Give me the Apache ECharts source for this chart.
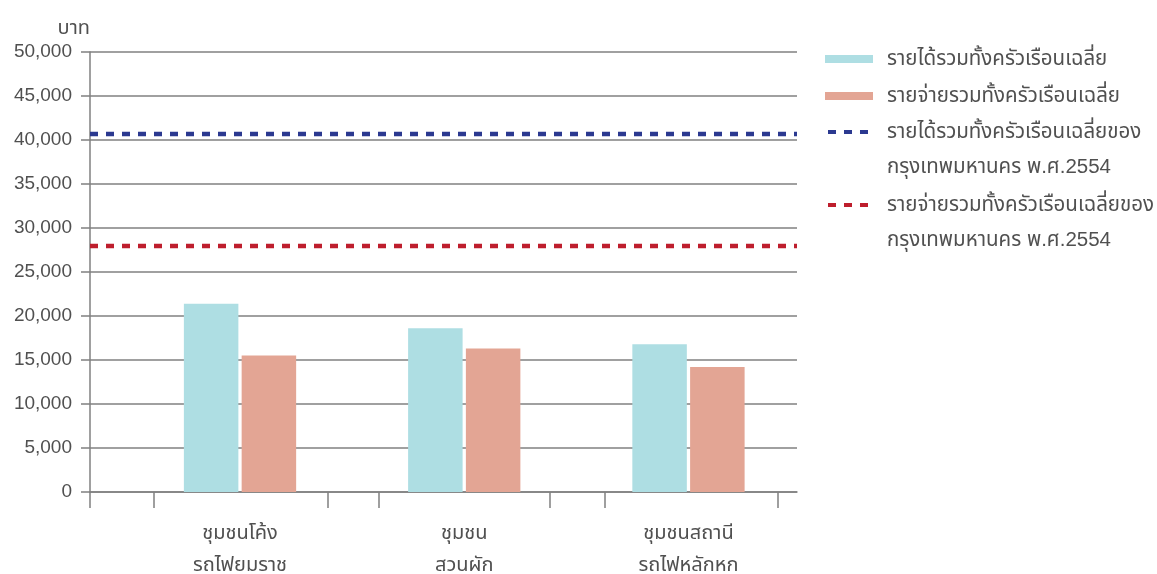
<!DOCTYPE html>
<html>
<head>
<meta charset="utf-8">
<script src="https://cdn.jsdelivr.net/npm/echarts@6/dist/echarts.min.js"></script>
<style>
  html, body { margin: 0; padding: 0; background: #ffffff; }
  #chart { width: 1157px; height: 574px; }
</style>
</head>
<body>
<div id="chart"></div>
<script>
// Communities along the railway, average monthly household income / expenditure (baht)
const categories = ['ชุมชนโค้ง\nรถไฟยมราช', 'ชุมชน\nสวนผัก', 'ชุมชนสถานี\nรถไฟหลักหก'];
const incomeAvg = [21400, 18600, 16800];
const expenseAvg = [15500, 16300, 14200];
// Bangkok averages, 2554 B.E.
const bkkIncomeAvg = 40700;
const bkkExpenseAvg = 28000;
const seriesNames = [
  'รายได้รวมทั้งครัวเรือนเฉลี่ย',
  'รายจ่ายรวมทั้งครัวเรือนเฉลี่ย',
  'รายได้รวมทั้งครัวเรือนเฉลี่ยของ\nกรุงเทพมหานคร พ.ศ.2554',
  'รายจ่ายรวมทั้งครัวเรือนเฉลี่ยของ\nกรุงเทพมหานคร พ.ศ.2554'
];
const yUnit = 'บาท';

const COLORS = ['#AEDEE3', '#E3A594', '#2B3990', '#BE1E2D'];
const TEXT = '#505050';
const AXIS = '#808080';
const FONT = '"Liberation Sans", "Noto Sans Thai", "Noto Sans", sans-serif';

// x runs over category index; each group is bracketed by a pair of ticks
const xMin = -0.669, xMax = 2.484;
const groupTicks = [-0.383, 0.392, 0.620, 1.382, 1.628, 2.399];
const tickValues = [xMin].concat(groupTicks);

// legend glyphs: a solid swatch, and three dashes sitting on the first text line of a two-line box
const LEGEND_LINE = 35;
const swatchIcon = 'rect';
const dashIcon = 'path://M0,0h0.01v0.01zM0,15.5h8v4h-8zM16,15.5h8v4h-8zM32,15.5h8v4h-8zM0,70h0.01v0.01z';

const chart = echarts.init(document.getElementById('chart'));

function legendBlock(idx, left, top) {
  const dashed = idx >= 2;
  return {
    orient: 'vertical', left: left, top: top, padding: 0,
    selectedMode: false,
    icon: dashed ? dashIcon : swatchIcon,
    itemWidth: dashed ? 40 : 48,
    itemHeight: dashed ? 2 * LEGEND_LINE : 8,
    data: [seriesNames[idx]],
    textStyle: {
      fontFamily: FONT, fontSize: 20.5, lineHeight: LEGEND_LINE, color: TEXT,
      padding: [0, 0, 0, dashed ? 14 : 9]
    }
  };
}

function refLine(idx, value) {
  return {
    name: seriesNames[idx], type: 'line', data: [],
    color: COLORS[idx], itemStyle: { color: COLORS[idx] },
    markLine: {
      silent: true, symbol: 'none', animation: false,
      label: { show: false },
      lineStyle: { color: COLORS[idx], width: 4.3, type: [8, 8] },
      data: [{ yAxis: value }]
    }
  };
}

chart.setOption({
  animation: false,
  backgroundColor: '#ffffff',
  textStyle: { fontFamily: FONT },
  grid: { left: 90, right: 360, top: 52, bottom: 82, containLabel: false, outerBoundsMode: 'none' },
  legend: [
    legendBlock(0, 825, 59 - 17.5),
    legendBlock(1, 825, 96 - 17.5),
    legendBlock(2, 828, 132 - 17.5),
    legendBlock(3, 828, 205 - 17.5)
  ],
  xAxis: {
    type: 'value', min: xMin, max: xMax,
    splitLine: { show: false },
    axisLine: { show: true, lineStyle: { color: AXIS, width: 1.5 } },
    axisTick: { show: true, customValues: tickValues, length: 16, lineStyle: { color: AXIS, width: 1.5 } },
    axisLabel: {
      customValues: categories.map((_, i) => i),
      formatter: v => categories[Math.round(v)],
      fontFamily: FONT, fontSize: 20, lineHeight: 32, color: TEXT, margin: 25
    }
  },
  yAxis: {
    type: 'value', min: 0, max: 50000, interval: 5000,
    name: yUnit, nameLocation: 'end', nameGap: 14,
    nameTextStyle: { fontFamily: FONT, fontSize: 20, color: TEXT, align: 'right' },
    axisLine: { show: true, onZero: false, lineStyle: { color: AXIS, width: 1.5 } },
    axisTick: { show: true, length: 9, lineStyle: { color: AXIS, width: 1.5 } },
    splitLine: { show: true, lineStyle: { color: AXIS, width: 1.5 } },
    axisLabel: {
      fontFamily: FONT, fontSize: 19, color: TEXT, margin: 18,
      formatter: v => v.toLocaleString('en-US')
    }
  },
  series: [
    {
      name: seriesNames[0], type: 'bar', barWidth: 54.5, barGap: '6%',
      itemStyle: { color: COLORS[0] },
      data: incomeAvg.map((v, i) => [i, v])
    },
    {
      name: seriesNames[1], type: 'bar', barWidth: 54.5, barGap: '6%',
      itemStyle: { color: COLORS[1] },
      data: expenseAvg.map((v, i) => [i, v])
    },
    refLine(2, bkkIncomeAvg),
    refLine(3, bkkExpenseAvg)
  ]
});
</script>
</body>
</html>
